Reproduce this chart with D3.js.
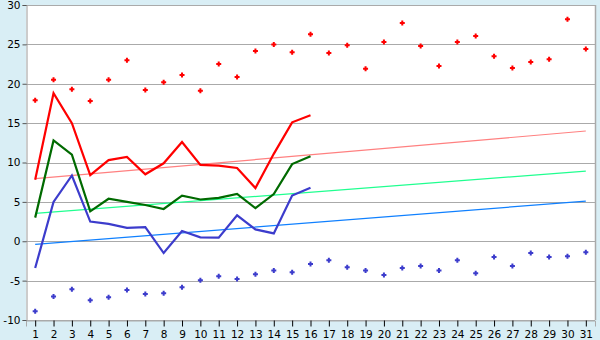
<!DOCTYPE html>
<html>
<head>
<meta charset="utf-8">
<script src="https://cdn.jsdelivr.net/npm/d3@7"></script>
<style>
  html, body { margin: 0; padding: 0; background: #d9eef5; }
  svg { display: block; }
</style>
</head>
<body>
<svg id="chart" width="600" height="340"></svg>
<script>
const days = d3.range(1, 32);
const yTicks = [-10, -5, 0, 5, 10, 15, 20, 25, 30];

const maxPoints = [17.9, 20.5, 19.3, 17.8, 20.5, 23.0, 19.2, 20.2, 21.1, 19.1,
  22.5, 20.85, 24.15, 25.0, 24.0, 26.3, 23.9, 24.9, 21.9, 25.3,
  27.7, 24.8, 22.25, 25.3, 26.05, 23.5, 22.0, 22.75, 23.1, 28.2, 24.4];
const minPoints = [-8.9, -7.0, -6.1, -7.5, -7.1, -6.2, -6.7, -6.6, -5.85, -4.95,
  -4.45, -4.8, -4.2, -3.7, -3.95, -2.9, -2.4, -3.3, -3.7, -4.3,
  -3.4, -3.15, -3.7, -2.4, -4.05, -2.0, -3.15, -1.5, -2.0, -1.9, -1.4];

const maxLine = [7.8, 18.8, 15.0, 8.4, 10.3, 10.7, 8.5, 9.9, 12.6, 9.7, 9.6, 9.3, 6.75, 11.1, 15.1, 16.0];
const meanLine = [3.0, 12.8, 11.0, 3.8, 5.4, 5.0, 4.6, 4.1, 5.8, 5.3, 5.5, 6.0, 4.2, 6.0, 9.8, 10.8];
const minLine = [-3.4, 5.0, 8.35, 2.5, 2.2, 1.7, 1.8, -1.5, 1.3, 0.5, 0.45, 3.3, 1.5, 1.0, 5.8, 6.8];

const trendDays = [1, 31];
const maxTrend = [7.95, 14.0];
const meanTrend = [3.55, 8.9];
const minTrend = [-0.4, 5.1];

const svg = d3.select("#chart");
const W = 600, H = 340;
const m = { left: 26, right: 5, top: 5, bottom: 20 };
const pw = W - m.left - m.right;
const ph = H - m.top - m.bottom;

const x = d3.scalePoint().domain(days).range([m.left, m.left + pw]).padding(0.5);
const y = d3.scaleLinear().domain([-10, 30]).range([m.top + ph, m.top]);

svg.append("rect").attr("x", 0).attr("y", 0).attr("width", W).attr("height", H).attr("fill", "#d9eef5");
svg.append("rect").attr("x", m.left).attr("y", m.top).attr("width", pw).attr("height", ph).attr("fill", "#ffffff");

// gridlines
svg.append("g").selectAll("line").data(yTicks).join("line")
  .attr("x1", m.left).attr("x2", m.left + pw)
  .attr("y1", d => Math.round(y(d)) + 0.5).attr("y2", d => Math.round(y(d)) + 0.5)
  .attr("stroke", "#aaaaaa").attr("stroke-width", 1.2);

// right border
svg.append("line").attr("x1", m.left + pw + 0.5).attr("x2", m.left + pw + 0.5)
  .attr("y1", m.top).attr("y2", m.top + ph).attr("stroke", "#aaaaaa").attr("stroke-width", 1.5);

const fontFam = "DejaVu Sans, Verdana, sans-serif";

// y axis
const yAxis = svg.append("g").attr("transform", `translate(${m.left + 0.5},0)`)
  .call(d3.axisLeft(y).tickValues(yTicks).tickSize(4).tickPadding(2).tickFormat(d => String(d)));
yAxis.select(".domain").attr("stroke", "#999999");
yAxis.selectAll(".tick line").attr("stroke", "#555555");
yAxis.selectAll("text").attr("font-family", fontFam).attr("font-size", "10.5px").attr("fill", "#000");

// x axis
const xAxis = svg.append("g").attr("transform", `translate(0,${m.top + ph + 0.5})`)
  .call(d3.axisBottom(x).tickSize(6).tickPadding(4));
xAxis.select(".domain").attr("stroke", "#aaaaaa");
xAxis.selectAll(".tick line").attr("stroke", "#000");
xAxis.selectAll("text").attr("font-family", fontFam).attr("font-size", "10.5px").attr("fill", "#000");

// trend lines
const trendLine = d3.line().x((d, i) => x(trendDays[i])).y(d => y(d));
[[maxTrend, "#ff8080"], [meanTrend, "#20ff90"], [minTrend, "#1080ff"]].forEach(([arr, c]) => {
  svg.append("path").attr("d", trendLine(arr)).attr("fill", "none")
    .attr("stroke", c).attr("stroke-width", 1.2);
});

// main lines
const line = d3.line().x((d, i) => x(days[i])).y(d => y(d));
[[minLine, "#3c3ccc"], [meanLine, "#006a00"], [maxLine, "#ff0000"]].forEach(([arr, c]) => {
  svg.append("path").attr("d", line(arr)).attr("fill", "none")
    .attr("stroke", c).attr("stroke-width", 2.2).attr("stroke-linejoin", "miter");
});

// point markers
const marker = "M-1,-2.5H1V-1H2.5V1H1V2.5H-1V1H-2.5V-1H-1Z";
[[maxPoints, "#ff0000"], [minPoints, "#3c3ccc"]].forEach(([arr, c]) => {
  svg.append("g").selectAll("path").data(arr).join("path")
    .attr("d", marker)
    .attr("transform", (d, i) => `translate(${x(days[i])},${y(d)})`)
    .attr("fill", c);
});
</script>
</body>
</html>
